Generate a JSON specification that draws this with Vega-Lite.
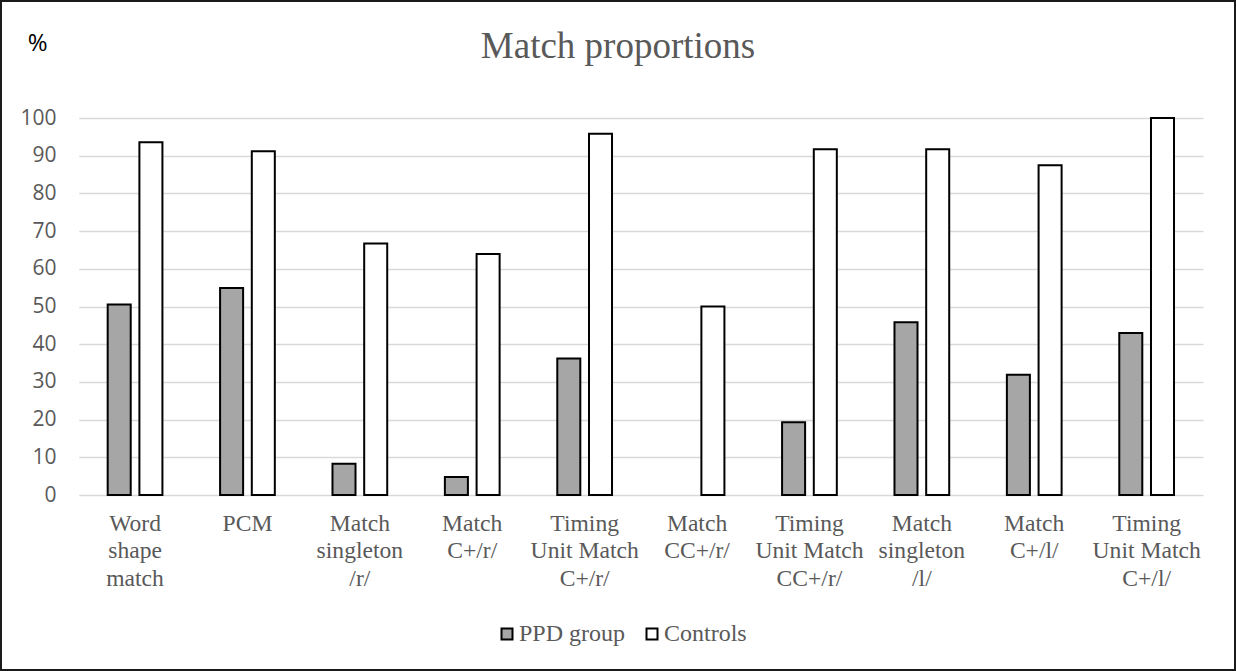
{
  "$schema": "https://vega.github.io/schema/vega-lite/v6.json",
  "width": 1234,
  "height": 669,
  "autosize": {"type": "none"},
  "padding": 1,
  "background": "white",
  "title": {
    "text": "Match proportions",
    "font": "Liberation Serif",
    "fontSize": 37,
    "fontWeight": "normal",
    "color": "#595959",
    "anchor": "middle",
    "frame": "group",
    "orient": "top",
    "baseline": "alphabetic",
    "offset": 0,
    "dy": 94
  },
  "data": {
    "values": [
      {"category": "Word\nshape\nmatch", "group": "PPD group", "value": 50.5},
      {"category": "Word\nshape\nmatch", "group": "Controls", "value": 93.6},
      {"category": "PCM", "group": "PPD group", "value": 54.9},
      {"category": "PCM", "group": "Controls", "value": 91.2},
      {"category": "Match\nsingleton\n/r/", "group": "PPD group", "value": 8.3},
      {"category": "Match\nsingleton\n/r/", "group": "Controls", "value": 66.7},
      {"category": "Match\nC+/r/", "group": "PPD group", "value": 4.8},
      {"category": "Match\nC+/r/", "group": "Controls", "value": 63.9},
      {"category": "Timing\nUnit Match\nC+/r/", "group": "PPD group", "value": 36.2},
      {"category": "Timing\nUnit Match\nC+/r/", "group": "Controls", "value": 95.8},
      {"category": "Match\nCC+/r/", "group": "PPD group", "value": 0},
      {"category": "Match\nCC+/r/", "group": "Controls", "value": 50},
      {"category": "Timing\nUnit Match\nCC+/r/", "group": "PPD group", "value": 19.3},
      {"category": "Timing\nUnit Match\nCC+/r/", "group": "Controls", "value": 91.7},
      {"category": "Match\nsingleton\n/l/", "group": "PPD group", "value": 45.8},
      {"category": "Match\nsingleton\n/l/", "group": "Controls", "value": 91.7},
      {"category": "Match\nC+/l/", "group": "PPD group", "value": 31.9},
      {"category": "Match\nC+/l/", "group": "Controls", "value": 87.5},
      {"category": "Timing\nUnit Match\nC+/l/", "group": "PPD group", "value": 43.0},
      {"category": "Timing\nUnit Match\nC+/l/", "group": "Controls", "value": 100}
    ]
  },
  "mark": {"type": "bar", "stroke": "black"},
  "encoding": {
    "x": {
      "field": "category",
      "type": "nominal",
      "sort": null,
      "scale": {"range": [77.8, 1201.9], "paddingInner": 0.513, "paddingOuter": 0.257},
      "axis": {
        "title": null,
        "orient": "bottom",
        "offset": -175,
        "domain": false,
        "ticks": false,
        "tickSize": 0,
        "labelAngle": 0,
        "labelFont": "Liberation Serif",
        "labelFontSize": 23.6,
        "labelColor": "#595959",
        "labelPadding": 16,
        "labelLineHeight": 27.5,
        "labelLimit": 0,
        "labelOverlap": false,
        "labelExpr": "split(datum.value, '\\n')"
      }
    },
    "xOffset": {
      "field": "group",
      "type": "nominal",
      "sort": ["PPD group", "Controls"],
      "scale": {"paddingInner": 0.274, "paddingOuter": 0}
    },
    "y": {
      "field": "value",
      "type": "quantitative",
      "scale": {"domain": [0, 100], "range": [494, 117], "nice": false},
      "axis": {
        "values": [0, 10, 20, 30, 40, 50, 60, 70, 80, 90, 100],
        "offset": -77.8,
        "domain": false,
        "ticks": false,
        "tickSize": 0,
        "grid": true,
        "gridColor": "#d9d9d9",
        "gridWidth": 1.3,
        "labelFont": "Open Sans",
        "labelFontSize": 21,
        "labelColor": "#595959",
        "labelPadding": 22.8,
        "title": "%",
        "titleAngle": 0,
        "titleFont": "Open Sans",
        "titleFontSize": 24,
        "titleFontWeight": "normal",
        "titleColor": "black",
        "titleAlign": "left",
        "titleBaseline": "alphabetic",
        "titleX": -51.5,
        "titleY": 49
      }
    },
    "fill": {
      "field": "group",
      "type": "nominal",
      "sort": ["PPD group", "Controls"],
      "scale": {"domain": ["PPD group", "Controls"], "range": ["#a6a6a6", "#ffffff"]},
      "legend": {
        "title": null,
        "orient": "none",
        "direction": "horizontal",
        "legendX": 494,
        "legendY": 621,
        "symbolType": "square",
        "symbolSize": 121,
        "symbolStrokeColor": "black",
        "symbolStrokeWidth": 2,
        "symbolOpacity": 1,
        "labelFont": "Liberation Serif",
        "labelFontSize": 24,
        "labelColor": "#595959",
        "labelOffset": 0,
        "columnPadding": 14,
        "padding": 0
      }
    },
    "strokeWidth": {
      "condition": {"test": "datum.value === 0", "value": 0},
      "value": 2
    }
  },
  "config": {
    "view": {"stroke": "#1a1a1a", "strokeWidth": 2}
  }
}
